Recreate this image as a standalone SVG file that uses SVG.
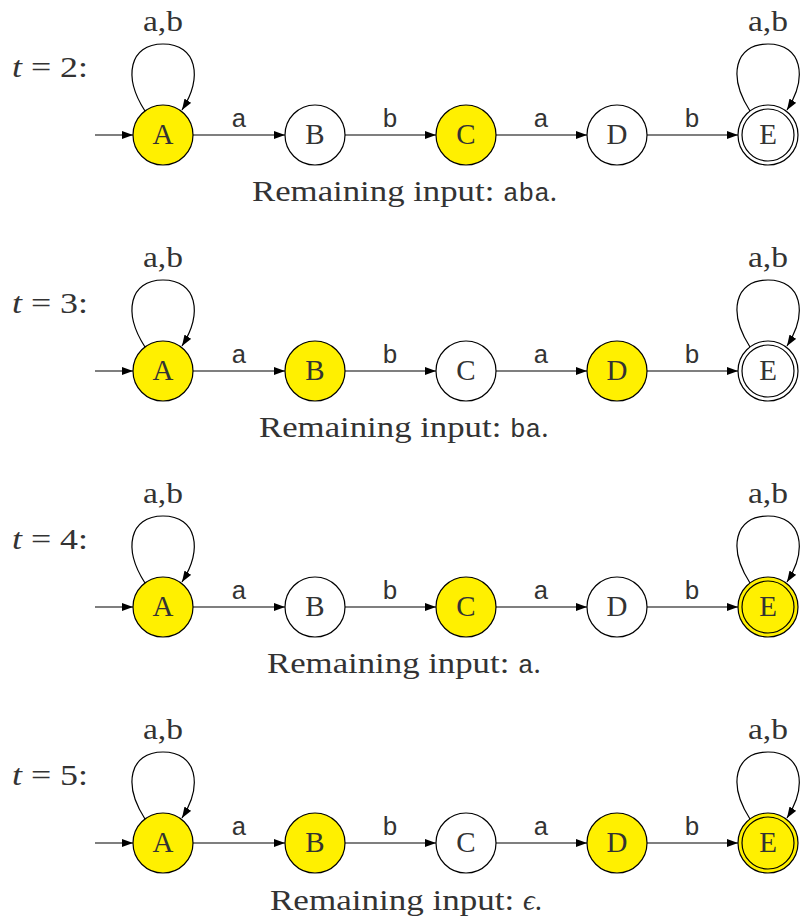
<svg xmlns="http://www.w3.org/2000/svg" width="804" height="920" viewBox="0 0 804 920">
<defs>
<marker id="arr" markerUnits="userSpaceOnUse" markerWidth="11" markerHeight="8" refX="11" refY="4" orient="auto">
<path d="M0,0 L11,4 L0,8 Z" fill="#000"/>
</marker>
<style>
.bg{fill:#fff}
.st{fill:#fff;stroke:#000;stroke-width:1.2}
.on{fill:#fff000;stroke:#000;stroke-width:1.2}
.in{fill:none;stroke:#000;stroke-width:1.2}
.e{fill:none;stroke:#000;stroke-width:1.2;marker-end:url(#arr)}
.lbl{font-family:"Liberation Serif","Times New Roman",serif;font-size:29px;fill:#333;text-anchor:middle}
.ser{font-family:"Liberation Serif","Times New Roman",serif;font-size:29px;fill:#333}
.mono{font-family:"Liberation Mono","Courier New",monospace;font-size:26px;fill:#333}
.el{font-family:"Liberation Mono","Courier New",monospace;font-size:26px;fill:#333;text-anchor:middle}
</style>
</defs>
<rect class="bg" x="0" y="0" width="804" height="920"/>

<g id="connectors">
<path class="e" d="M95,135 H133"/>
<path class="e" d="M193,135 H285"/>
<path class="e" d="M345,135 H436"/>
<path class="e" d="M496,135 H587"/>
<path class="e" d="M647,135 H738"/>
<path class="e" d="M145,111 C123,77 129,44 163,44 C197,44 203,77 182,110"/>
<path class="e" d="M750,111 C728,77 734,44 768,44 C802,44 808,77 787,110"/>
<path class="e" d="M95,371 H133"/>
<path class="e" d="M193,371 H285"/>
<path class="e" d="M345,371 H436"/>
<path class="e" d="M496,371 H587"/>
<path class="e" d="M647,371 H738"/>
<path class="e" d="M145,347 C123,313 129,280 163,280 C197,280 203,313 182,346"/>
<path class="e" d="M750,347 C728,313 734,280 768,280 C802,280 808,313 787,346"/>
<path class="e" d="M95,607 H133"/>
<path class="e" d="M193,607 H285"/>
<path class="e" d="M345,607 H436"/>
<path class="e" d="M496,607 H587"/>
<path class="e" d="M647,607 H738"/>
<path class="e" d="M145,583 C123,549 129,516 163,516 C197,516 203,549 182,582"/>
<path class="e" d="M750,583 C728,549 734,516 768,516 C802,516 808,549 787,582"/>
<path class="e" d="M95,843 H133"/>
<path class="e" d="M193,843 H285"/>
<path class="e" d="M345,843 H436"/>
<path class="e" d="M496,843 H587"/>
<path class="e" d="M647,843 H738"/>
<path class="e" d="M145,819 C123,785 129,752 163,752 C197,752 203,785 182,818"/>
<path class="e" d="M750,819 C728,785 734,752 768,752 C802,752 808,785 787,818"/>

<text class="lbl" x="163" y="31" textLength="40" lengthAdjust="spacingAndGlyphs">a,b</text>
<text class="lbl" x="768" y="31" textLength="40" lengthAdjust="spacingAndGlyphs">a,b</text>
<text class="el" x="239" y="127">a</text>
<text class="el" x="390" y="127">b</text>
<text class="el" x="541" y="127">a</text>
<text class="el" x="692" y="127">b</text>

<text class="lbl" x="163" y="267" textLength="40" lengthAdjust="spacingAndGlyphs">a,b</text>
<text class="lbl" x="768" y="267" textLength="40" lengthAdjust="spacingAndGlyphs">a,b</text>
<text class="el" x="239" y="363">a</text>
<text class="el" x="390" y="363">b</text>
<text class="el" x="541" y="363">a</text>
<text class="el" x="692" y="363">b</text>

<text class="lbl" x="163" y="503" textLength="40" lengthAdjust="spacingAndGlyphs">a,b</text>
<text class="lbl" x="768" y="503" textLength="40" lengthAdjust="spacingAndGlyphs">a,b</text>
<text class="el" x="239" y="599">a</text>
<text class="el" x="390" y="599">b</text>
<text class="el" x="541" y="599">a</text>
<text class="el" x="692" y="599">b</text>

<text class="lbl" x="163" y="739" textLength="40" lengthAdjust="spacingAndGlyphs">a,b</text>
<text class="lbl" x="768" y="739" textLength="40" lengthAdjust="spacingAndGlyphs">a,b</text>
<text class="el" x="239" y="835">a</text>
<text class="el" x="390" y="835">b</text>
<text class="el" x="541" y="835">a</text>
<text class="el" x="692" y="835">b</text>
</g>

<g id="row1">
<text class="ser" x="12" y="77" textLength="76" lengthAdjust="spacingAndGlyphs"><tspan font-style="italic">t</tspan> = 2:</text>
<g id="r1-A"><circle class="on" cx="163" cy="135" r="30"/><text class="lbl" x="163" y="144">A</text></g>
<g id="r1-B"><circle class="st" cx="315" cy="135" r="30"/><text class="lbl" x="315" y="144">B</text></g>
<g id="r1-C"><circle class="on" cx="466" cy="135" r="30"/><text class="lbl" x="466" y="144">C</text></g>
<g id="r1-D"><circle class="st" cx="617" cy="135" r="30"/><text class="lbl" x="617" y="144">D</text></g>
<g id="r1-E"><circle class="st" cx="768" cy="135" r="30"/><circle class="in" cx="768" cy="135" r="26"/><text class="lbl" x="768" y="144">E</text></g>
<text class="ser" x="252" y="201"><tspan textLength="251" lengthAdjust="spacingAndGlyphs">Remaining input: </tspan><tspan class="mono">aba</tspan>.</text>
</g>

<g id="row2">
<text class="ser" x="12" y="313" textLength="76" lengthAdjust="spacingAndGlyphs"><tspan font-style="italic">t</tspan> = 3:</text>
<g id="r2-A"><circle class="on" cx="163" cy="371" r="30"/><text class="lbl" x="163" y="380">A</text></g>
<g id="r2-B"><circle class="on" cx="315" cy="371" r="30"/><text class="lbl" x="315" y="380">B</text></g>
<g id="r2-C"><circle class="st" cx="466" cy="371" r="30"/><text class="lbl" x="466" y="380">C</text></g>
<g id="r2-D"><circle class="on" cx="617" cy="371" r="30"/><text class="lbl" x="617" y="380">D</text></g>
<g id="r2-E"><circle class="st" cx="768" cy="371" r="30"/><circle class="in" cx="768" cy="371" r="26"/><text class="lbl" x="768" y="380">E</text></g>
<text class="ser" x="259" y="437"><tspan textLength="251" lengthAdjust="spacingAndGlyphs">Remaining input: </tspan><tspan class="mono">ba</tspan>.</text>
</g>

<g id="row3">
<text class="ser" x="12" y="549" textLength="76" lengthAdjust="spacingAndGlyphs"><tspan font-style="italic">t</tspan> = 4:</text>
<g id="r3-A"><circle class="on" cx="163" cy="607" r="30"/><text class="lbl" x="163" y="616">A</text></g>
<g id="r3-B"><circle class="st" cx="315" cy="607" r="30"/><text class="lbl" x="315" y="616">B</text></g>
<g id="r3-C"><circle class="on" cx="466" cy="607" r="30"/><text class="lbl" x="466" y="616">C</text></g>
<g id="r3-D"><circle class="st" cx="617" cy="607" r="30"/><text class="lbl" x="617" y="616">D</text></g>
<g id="r3-E"><circle class="on" cx="768" cy="607" r="30"/><circle class="in" cx="768" cy="607" r="26"/><text class="lbl" x="768" y="616">E</text></g>
<text class="ser" x="267" y="673"><tspan textLength="251" lengthAdjust="spacingAndGlyphs">Remaining input: </tspan><tspan class="mono">a</tspan>.</text>
</g>

<g id="row4">
<text class="ser" x="12" y="785" textLength="76" lengthAdjust="spacingAndGlyphs"><tspan font-style="italic">t</tspan> = 5:</text>
<g id="r4-A"><circle class="on" cx="163" cy="843" r="30"/><text class="lbl" x="163" y="852">A</text></g>
<g id="r4-B"><circle class="on" cx="315" cy="843" r="30"/><text class="lbl" x="315" y="852">B</text></g>
<g id="r4-C"><circle class="st" cx="466" cy="843" r="30"/><text class="lbl" x="466" y="852">C</text></g>
<g id="r4-D"><circle class="on" cx="617" cy="843" r="30"/><text class="lbl" x="617" y="852">D</text></g>
<g id="r4-E"><circle class="on" cx="768" cy="843" r="30"/><circle class="in" cx="768" cy="843" r="26"/><text class="lbl" x="768" y="852">E</text></g>
<text class="ser" x="270" y="910"><tspan textLength="253" lengthAdjust="spacingAndGlyphs">Remaining input: </tspan><tspan font-style="italic">ϵ</tspan>.</text>
</g>
</svg>
